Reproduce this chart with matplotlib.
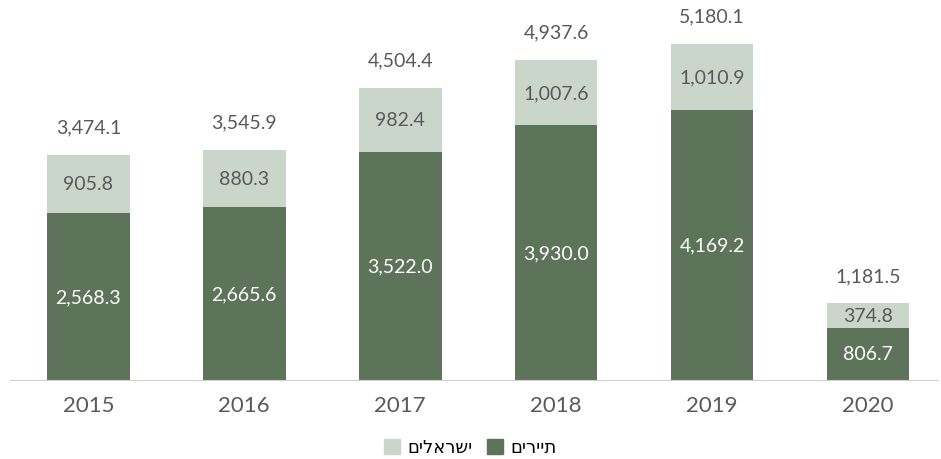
import numpy as np
import matplotlib
matplotlib.use('Agg')
from matplotlib import pyplot as plt
from matplotlib.patches import Patch

plt.rcParams['font.family'] = ['Lato', 'DejaVu Sans']

years = ['2015', '2016', '2017', '2018', '2019', '2020']
tourists = [2568.3, 2665.6, 3522.0, 3930.0, 4169.2, 806.7]
israelis = [905.8, 880.3, 982.4, 1007.6, 1010.9, 374.8]
totals = [3474.1, 3545.9, 4504.4, 4937.6, 5180.1, 1181.5]
series_names = ['תיירים', 'ישראלים']  # tourists, israelis

dark = '#5e745a'
light = '#cbd6cb'
grey = '#595959'


def rtl(s):
	# matplotlib draws left-to-right, so flip hebrew for display
	return s[::-1]


fig = plt.figure(figsize=(9.41, 4.60), dpi=100)
ax = fig.add_axes([0.011, 0.172, 0.986, 0.828])

x = np.arange(len(years))
w = 0.53
ax.bar(x, tourists, width=w, color=dark, zorder=2)
ax.bar(x, israelis, width=w, bottom=tourists, color=light, zorder=2)

for i in range(len(years)):
	ax.text(x[i], tourists[i] / 2, '{:,.1f}'.format(tourists[i]),
			ha='center', va='center', color='white', fontsize=14)
	ax.text(x[i], tourists[i] + israelis[i] / 2, '{:,.1f}'.format(israelis[i]),
			ha='center', va='center', color=grey, fontsize=14)
	ax.text(x[i], totals[i] + 430, '{:,.1f}'.format(totals[i]),
			ha='center', va='center', color=grey, fontsize=14)

ax.set_xlim(-0.5, 5.45)
ax.set_ylim(0, 5874)
ax.set_xticks(x)
ax.set_xticklabels(years, fontsize=16, color=grey)
ax.tick_params(axis='x', length=0, pad=11)
ax.set_yticks([])
for s in ['top', 'right', 'left']:
	ax.spines[s].set_visible(False)
ax.spines['bottom'].set_color('#d0d0d0')

handles = [Patch(color=light, label=rtl(series_names[1])),
		   Patch(color=dark, label=rtl(series_names[0]))]
fig.legend(handles=handles, loc='center', bbox_to_anchor=(0.5, 0.026), ncol=2,
		   frameon=False, fontsize=13, handlelength=0.9, handleheight=0.9,
		   handletextpad=0.4, columnspacing=0.8, labelcolor='black')

fig.savefig('out.png', dpi=100)
